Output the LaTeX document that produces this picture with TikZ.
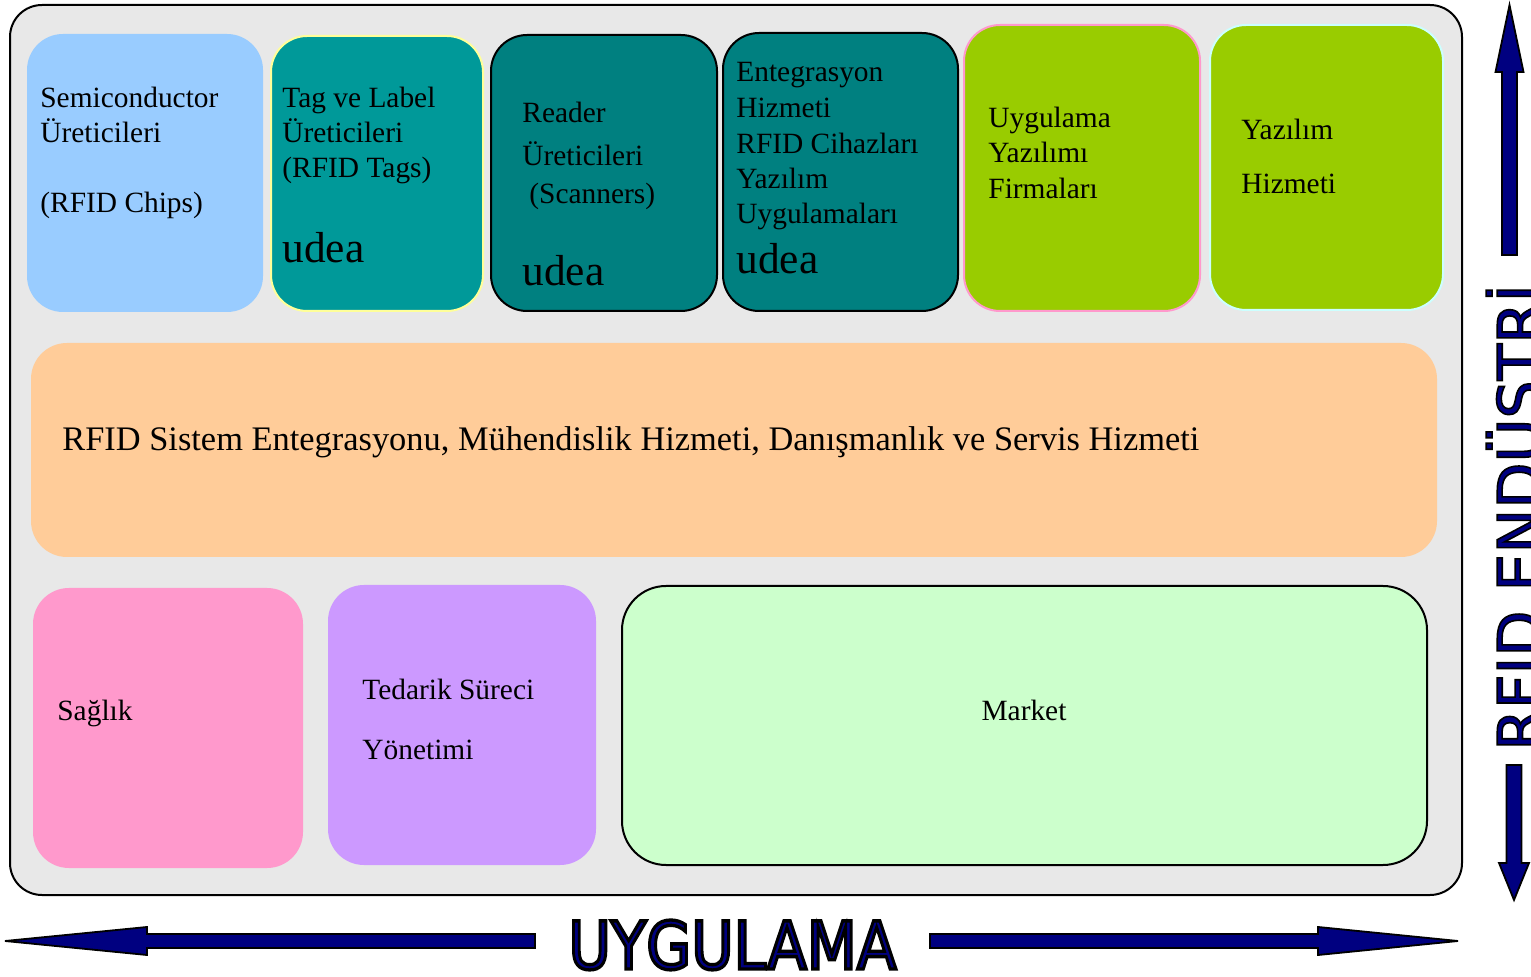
\documentclass[tikz,border=0pt]{standalone}
\usepackage{fontspec}
\setmainfont{Liberation Serif}
\newfontfamily\axisfont{DejaVu Sans}
\usetikzlibrary{fit}

% navy letters with a thin black stroke (fill+stroke text render mode)
\newcommand\strokedtext[2]{\special{pdf:code q 0 0 0 RG #1 w 2 Tr}#2\special{pdf:code Q}}

\definecolor{framegray}{HTML}{E8E8E8}
\definecolor{sky}{HTML}{99CCFF}
\definecolor{tealA}{HTML}{009999}
\definecolor{tealB}{HTML}{008080}
\definecolor{lime}{HTML}{99CC00}
\definecolor{peach}{HTML}{FFCC99}
\definecolor{rose}{HTML}{FF99CC}
\definecolor{lilac}{HTML}{CC99FF}
\definecolor{mint}{HTML}{CCFFCC}
\definecolor{navyc}{HTML}{000080}
\definecolor{paleyellow}{HTML}{FFFF99}
\definecolor{palecyan}{HTML}{CCFFFF}

\begin{document}
\begin{tikzpicture}[x=0.5pt,y=-0.5pt,
  box/.style={rounded corners=18pt, line width=1pt, inner sep=0pt},
  lbl/.style={anchor=base west, inner sep=0pt, font=\fontsize{14.7pt}{17.6pt}\selectfont},
  wide/.style={anchor=base west, inner sep=0pt, font=\fontsize{17.2pt}{20.6pt}\selectfont},
  big/.style={anchor=base west, inner sep=0pt, font=\fontsize{21.7pt}{26pt}\selectfont},
  arr/.style={fill=navyc, draw=black, line width=0.9pt, line join=miter}]
\useasboundingbox (0,0) rectangle (1531,977);

% outer frame
\node[box, rounded corners=16pt, fill=framegray, draw=black, fit={(10,5) (1462,895)}] (frame) {};

% top row of producer boxes
\node[box, fill=sky, fit={(27,34) (263,312)}] (semi) {};
\node[box, fill=tealA, draw=paleyellow, fit={(271,36) (483,311)}] (tags) {};
\node[box, fill=tealB, draw=black, fit={(491,35) (717,311)}] (reader) {};
\node[box, fill=tealB, draw=black, fit={(723,33) (958,311)}] (integ) {};
\node[box, fill=lime, draw=rose, fit={(964,25) (1200,311)}] (appsw) {};
\node[box, fill=lime, draw=palecyan, fit={(1210,25) (1443,310)}] (swserv) {};

% middle band
\node[box, fill=peach, fit={(31,343) (1437,557)}] (sysint) {};

% bottom row of application areas
\node[box, fill=rose, fit={(33,588) (303,868)}] (health) {};
\node[box, fill=lilac, fit={(328,585) (596,865)}] (supply) {};
\node[box, rounded corners=22pt, fill=mint, draw=black, fit={(622,586) (1427,865)}] (market) {};

% texts of the top row
\node[lbl] (t1a) at (40,108) {Semiconductor};
\node[lbl] (t1b) at (40,143) {Üreticileri};
\node[lbl] (t1c) at (40,213) {(RFID Chips)};

\node[lbl] (t2a) at (282,108) {Tag ve Label};
\node[lbl] (t2b) at (282,143) {Üreticileri};
\node[lbl] (t2c) at (282,178) {(RFID Tags)};
\node[big] (t2d) at (282,263) {udea};

\node[lbl] (t3a) at (522,123) {Reader};
\node[lbl] (t3b) at (522,166) {Üreticileri};
\node[lbl] (t3c) at (529,204) {(Scanners)};
\node[big] (t3d) at (522,286) {udea};

\node[lbl] (t4a) at (736,82) {Entegrasyon};
\node[lbl] (t4b) at (736,118) {Hizmeti};
\node[lbl] (t4c) at (736,154) {RFID Cihazları};
\node[lbl] (t4d) at (736,189) {Yazılım};
\node[lbl] (t4e) at (736,224) {Uygulamaları};
\node[big] (t4f) at (736,274) {udea};

\node[lbl] (t5a) at (988,128) {Uygulama};
\node[lbl] (t5b) at (988,163) {Yazılımı};
\node[lbl] (t5c) at (988,199) {Firmaları};

\node[lbl] (t6a) at (1241,140) {Yazılım};
\node[lbl] (t6b) at (1241,194) {Hizmeti};

% middle band text
\node[wide] (t7) at (62,451) {RFID Sistem Entegrasyonu, Mühendislik Hizmeti, Danışmanlık ve Servis Hizmeti};

% bottom row texts
\node[lbl] (t8) at (57,721) {Sağlık};
\node[lbl] (t9a) at (362,700) {Tedarik Süreci};
\node[lbl] (t9b) at (362,760) {Yönetimi};
\node[lbl, anchor=base] (t10) at (1024,721) {Market};

% horizontal axis: double arrow with label
\draw[arr] (5,941) -- (147,927) -- (147,934) -- (535,934) -- (535,948) -- (147,948) -- (147,955) -- cycle;
\draw[arr] (1458,941) -- (1318,927) -- (1318,934) -- (930,934) -- (930,948) -- (1318,948) -- (1318,955) -- cycle;
\node[anchor=base, inner sep=0pt, text=navyc] (xaxis) at (732.5,969)
  {\resizebox{164pt}{24.5pt}{\axisfont\strokedtext{0.5}{UYGULAMA}}};

% vertical axis: double arrow with label
\draw[arr] (1509.5,5) -- (1523.5,72) -- (1517,72) -- (1517,255) -- (1502,255) -- (1502,72) -- (1495.5,72) -- cycle;
\draw[arr] (1514,900) -- (1529,863) -- (1521.5,863) -- (1521.5,765) -- (1506.5,765) -- (1506.5,863) -- (1499,863) -- cycle;
\node[anchor=base west, inner sep=0pt, rotate=90, text=navyc, font=\axisfont\fontsize{30pt}{36pt}\selectfont] (yaxis) at (1541,751)
  {\strokedtext{0.8}{RFID ENDÜSTRİ}};
\end{tikzpicture}
\end{document}
